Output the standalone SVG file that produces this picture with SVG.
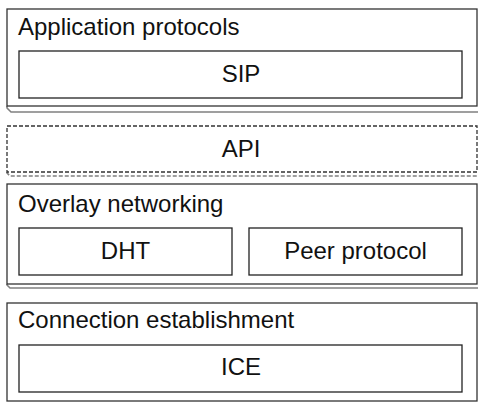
<svg xmlns="http://www.w3.org/2000/svg" width="478" height="402" viewBox="0 0 478 402">
  <style>
    .face { fill: #ffffff; stroke: #333333; stroke-width: 1.3; }
    .edge { fill: none; stroke: #808080; stroke-width: 1.6; }
    .dash { stroke-dasharray: 4 2; }
    .inner { fill: #ffffff; stroke: #222222; stroke-width: 1.3; }
    .lbl { font-family: "Liberation Sans", Arial, sans-serif; font-size: 24px; fill: #111111; }
    .mid { text-anchor: middle; }
  </style>
  <rect width="478" height="402" fill="#ffffff"/>

  <!-- layer: application protocols -->
  <g id="app-layer">
    <path class="edge" d="M7,106 L7,108 L11,112 L478,112"/>
    <rect class="face" x="7" y="9" width="470" height="97"/>
    <text class="lbl" x="18" y="35">Application protocols</text>
    <g id="sip">
      <rect class="inner" x="19" y="51" width="443" height="47"/>
      <text class="lbl mid" x="241" y="82">SIP</text>
    </g>
  </g>

  <!-- layer: API (dashed) -->
  <g id="api">
    <path class="edge dash" d="M7,172 L7,173 L10,176 L478,176"/>
    <rect class="face dash" x="7" y="126" width="470" height="46"/>
    <text class="lbl mid" x="241" y="157">API</text>
  </g>

  <!-- layer: overlay networking -->
  <g id="overlay-layer">
    <path class="edge" d="M7,284 L7,285 L10,288 L478,288"/>
    <rect class="face" x="7" y="184" width="470" height="100"/>
    <text class="lbl" x="18" y="212">Overlay networking</text>
    <g id="dht">
      <rect class="inner" x="19" y="228" width="213" height="47"/>
      <text class="lbl mid" x="125.5" y="259">DHT</text>
    </g>
    <g id="peer-protocol">
      <rect class="inner" x="249" y="228" width="213" height="47"/>
      <text class="lbl mid" x="355.5" y="259">Peer protocol</text>
    </g>
  </g>

  <!-- layer: connection establishment -->
  <g id="connection-layer">
    <rect class="face" x="7" y="303" width="470" height="98"/>
    <text class="lbl" x="18" y="328">Connection establishment</text>
    <g id="ice">
      <rect class="inner" x="19" y="345" width="443" height="47"/>
      <text class="lbl mid" x="241" y="375">ICE</text>
    </g>
  </g>

  <!-- no connectors between the stacked layers -->
  <g id="connectors"/>
</svg>
